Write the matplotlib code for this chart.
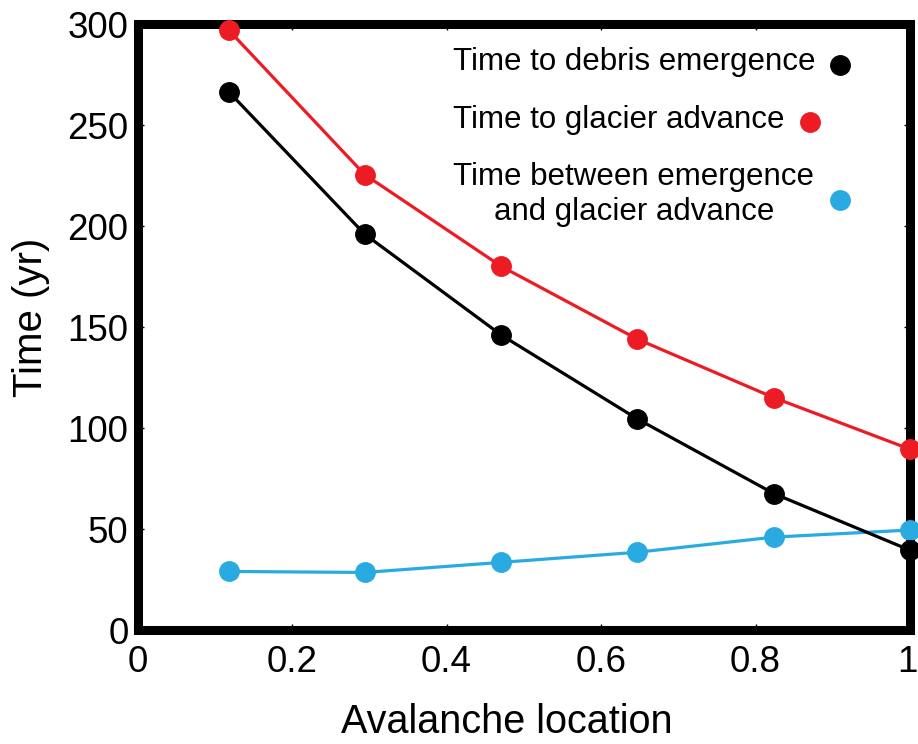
import matplotlib
matplotlib.use("Agg")
import matplotlib.pyplot as plt
from matplotlib.transforms import ScaledTranslation

plt.rcParams['font.family'] = ['Liberation Sans', 'DejaVu Sans']

# Data
location = [0.118, 0.294, 0.471, 0.647, 0.824, 1.0]
t_emergence = [266.5, 196, 146, 104.5, 67.5, 39.5]
t_advance = [297, 225.5, 180, 144, 115, 89.5]
t_between = [29, 28.5, 33.5, 38.5, 46, 49.5]

xticks = [0, 0.2, 0.4, 0.6, 0.8, 1.0]
xticklabels = ["0", "0.2", "0.4", "0.6", "0.8", "1"]
yticks = [0, 50, 100, 150, 200, 250, 300]
yticklabels = ["0", "50", "100", "150", "200", "250", "300"]

legend_labels = ["Time to debris emergence", "Time to glacier advance",
                 "Time between emergence\nand glacier advance"]

BLACK = "#000000"
RED = "#ED1C24"
BLUE = "#29ABE2"

fig = plt.figure(figsize=(9.18, 7.44), dpi=100)
ax = fig.add_axes([0.1498, 0.1532, 0.9913 - 0.1498, 0.9677 - 0.1532])

ms = 14
lw = 2.3
for y, c in [(t_between, BLUE), (t_advance, RED), (t_emergence, BLACK)]:
    ax.plot(location, y, color=c, lw=lw, marker='o', ms=ms, clip_on=False, zorder=5)

ax.set_xlim(0, 1)
ax.set_ylim(0, 300)
ax.set_xticks(xticks)
ax.set_xticklabels(xticklabels)
ax.set_yticks(yticks)
ax.set_yticklabels(yticklabels)

for s in ax.spines.values():
    s.set_linewidth(6.5)
    s.set_zorder(4)

ax.tick_params(direction='in', length=4, width=1, top=True, right=True,
               labelsize=26.5, pad=6.5)
ax.tick_params(axis='x', pad=11)

# nudge the last x tick label slightly left so it stays inside the figure
last = ax.get_xticklabels()[-1]
last.set_transform(last.get_transform() + ScaledTranslation(-3 / 100, 0, fig.dpi_scale_trans))

ax.set_xlabel("Avalanche location", fontsize=28.5)
ax.set_ylabel("Time (yr)", fontsize=29)
ax.xaxis.set_label_coords(0.478, -0.12)
ax.yaxis.set_label_coords(-0.113, 0.516)

# Custom legend
fs = 22.5
ax.text(0.409, 0.937, legend_labels[0], transform=ax.transAxes, fontsize=fs,
        ha='left', va='center')
ax.plot([0.910], [0.932], transform=ax.transAxes, marker='o', ms=ms, color=BLACK,
        clip_on=False)
ax.text(0.409, 0.8416, legend_labels[1], transform=ax.transAxes, fontsize=fs,
        ha='left', va='center')
ax.plot([0.871], [0.838], transform=ax.transAxes, marker='o', ms=ms, color=RED,
        clip_on=False)
ax.text(0.409, 0.7186, legend_labels[2], transform=ax.transAxes, fontsize=fs,
        ha='left', va='center', multialignment='center', linespacing=1.18)
ax.plot([0.910], [0.7096], transform=ax.transAxes, marker='o', ms=ms, color=BLUE,
        clip_on=False)

fig.savefig("out.png", dpi=100)
